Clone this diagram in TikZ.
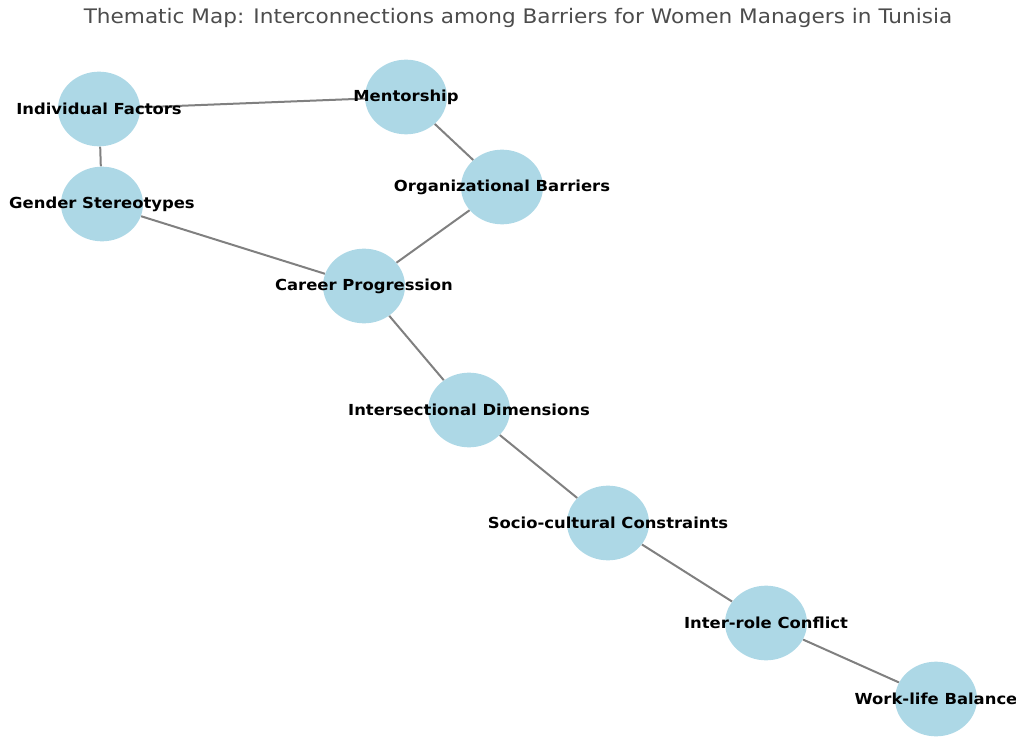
\documentclass[tikz,border=0pt]{standalone}
\usepackage{fontspec}
\setmainfont{DejaVu Sans}
\newfontfamily\widefont[FakeStretch=1.08]{DejaVu Sans}
\usetikzlibrary{shapes.geometric,backgrounds}
\definecolor{nodeblue}{RGB}{173,216,230}
\tikzset{
  theme/.style={ellipse, fill=nodeblue, minimum width=61.5pt, minimum height=56pt, inner sep=0pt},
  lbl/.style={font=\widefont\bfseries\fontsize{11.4}{13}\selectfont, text=black, inner sep=0pt},
  link/.style={draw=gray, line width=1.5pt}
}
\begin{document}
\begin{tikzpicture}[x=0.75pt, y=-0.75pt, line join=round, line cap=round]
  \useasboundingbox (0,0) rectangle (1016,737);
  \node[font=\widefont\fontsize{15}{18}\selectfont, text=black!70] (title) at (518,18) {Thematic Map: Interconnections among Barriers for Women Managers in Tunisia};
  \clip (0,0) rectangle (1016,737);
  % themes
  \node[theme, label={[lbl]center:Individual Factors}] (ind) at (99,109) {};
  \node[theme, label={[lbl]center:Mentorship}] (men) at (406,97) {};
  \node[theme, label={[lbl]center:Gender Stereotypes}] (gen) at (102,204) {};
  \node[theme, label={[lbl]center:Organizational Barriers}] (org) at (502,187) {};
  \node[theme, label={[lbl]center:Career Progression}] (car) at (364,286) {};
  \node[theme, label={[lbl]center:Intersectional Dimensions}] (int) at (469,410) {};
  \node[theme, label={[lbl]center:Socio-cultural Constraints}] (soc) at (608,523) {};
  \node[theme, label={[lbl]center:Inter-role Conflict}] (rol) at (766,623) {};
  \node[theme, label={[lbl]center:Work-life Balance}] (wlb) at (936,699) {};
  % links
  \begin{scope}[on background layer]
    \draw[link] (ind) -- (men);
    \draw[link] (ind) -- (gen);
    \draw[link] (men) -- (org);
    \draw[link] (gen) -- (car);
    \draw[link] (org) -- (car);
    \draw[link] (car) -- (int);
    \draw[link] (int) -- (soc);
    \draw[link] (soc) -- (rol);
    \draw[link] (rol) -- (wlb);
  \end{scope}
\end{tikzpicture}
\end{document}
